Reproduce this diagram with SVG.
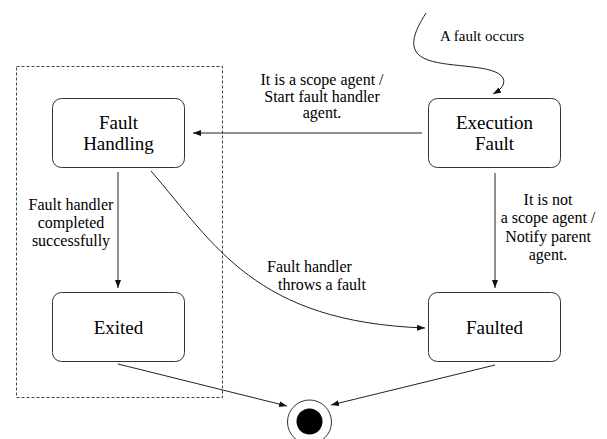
<svg xmlns="http://www.w3.org/2000/svg" width="607" height="439" viewBox="0 0 607 439" font-family="Liberation Serif">
<defs>
<style>
.node{fill:#fff;stroke:#333;stroke-width:1}
.ln{fill:none;stroke:#222;stroke-width:1}
</style>
<marker id="arr" markerUnits="userSpaceOnUse" markerWidth="10" markerHeight="8" refX="8" refY="3" orient="auto">
<path d="M0,0 L8,3 L0,6 Z" fill="#111"/>
</marker>
</defs>
<rect width="607" height="439" fill="#fff"/>
<rect x="16.5" y="66.5" width="206" height="331" fill="none" stroke="#444" stroke-width="1" stroke-dasharray="3,2"/>
<g id="connectors">
<path class="ln" marker-end="url(#arr)" d="M426,13 C414,32 405,52 428,60 C450,68 495,64 503,78 C506,85 500,90 493,94"/>
<path class="ln" marker-end="url(#arr)" d="M422,133 L193,133"/>
<path class="ln" marker-end="url(#arr)" d="M118,172 L118,288"/>
<path class="ln" marker-end="url(#arr)" d="M495,173 L495,288"/>
<path class="ln" marker-end="url(#arr)" d="M151,171 C215,245 255,322 425,328"/>
<path class="ln" marker-end="url(#arr)" d="M118,364 L287,406"/>
<path class="ln" marker-end="url(#arr)" d="M495,365 L331,405"/>
<text x="440" y="41" font-family="Liberation Serif" font-size="15">A fault occurs</text>
<text x="322" y="85" font-family="Liberation Serif" font-size="16" text-anchor="middle">It is a scope agent /<tspan x="322" y="101.5">Start fault handler</tspan><tspan x="322" y="117.5">agent.</tspan></text>
<text x="71" y="210" font-family="Liberation Serif" font-size="16" text-anchor="middle">Fault handler<tspan x="71" y="228">completed</tspan><tspan x="71" y="246">successfully</tspan></text>
<text x="548" y="205" font-family="Liberation Serif" font-size="16" text-anchor="middle">It is not<tspan x="548" y="223">a scope agent /</tspan><tspan x="548" y="241.5">Notify parent</tspan><tspan x="548" y="259.5">agent.</tspan></text>
<text x="267" y="271.5" font-family="Liberation Serif" font-size="16">Fault handler<tspan x="278" y="289.5">throws a fault</tspan></text>
</g>
<g id="fault-handling">
<rect class="node" x="52.5" y="98.5" width="132" height="69" rx="9"/>
<text x="118.5" y="129" font-family="Liberation Serif" font-size="19" text-anchor="middle">Fault<tspan x="118.5" y="149.5">Handling</tspan></text>
</g>
<g id="execution-fault">
<rect class="node" x="428.5" y="98.5" width="132" height="69" rx="9"/>
<text x="494.5" y="129" font-family="Liberation Serif" font-size="19" text-anchor="middle">Execution<tspan x="494.5" y="149.5">Fault</tspan></text>
</g>
<g id="exited">
<rect class="node" x="52.5" y="292.5" width="132" height="69" rx="9"/>
<text x="118.5" y="333.5" font-family="Liberation Serif" font-size="19" text-anchor="middle">Exited</text>
</g>
<g id="faulted">
<rect class="node" x="428.5" y="292.5" width="132" height="69" rx="9"/>
<text x="494.5" y="333.5" font-family="Liberation Serif" font-size="19" text-anchor="middle">Faulted</text>
</g>
<g id="final">
<circle cx="309.5" cy="422" r="22" fill="#fff" stroke="#333" stroke-width="1"/>
<circle cx="309.5" cy="421.5" r="13" fill="#000"/>
</g>
</svg>
